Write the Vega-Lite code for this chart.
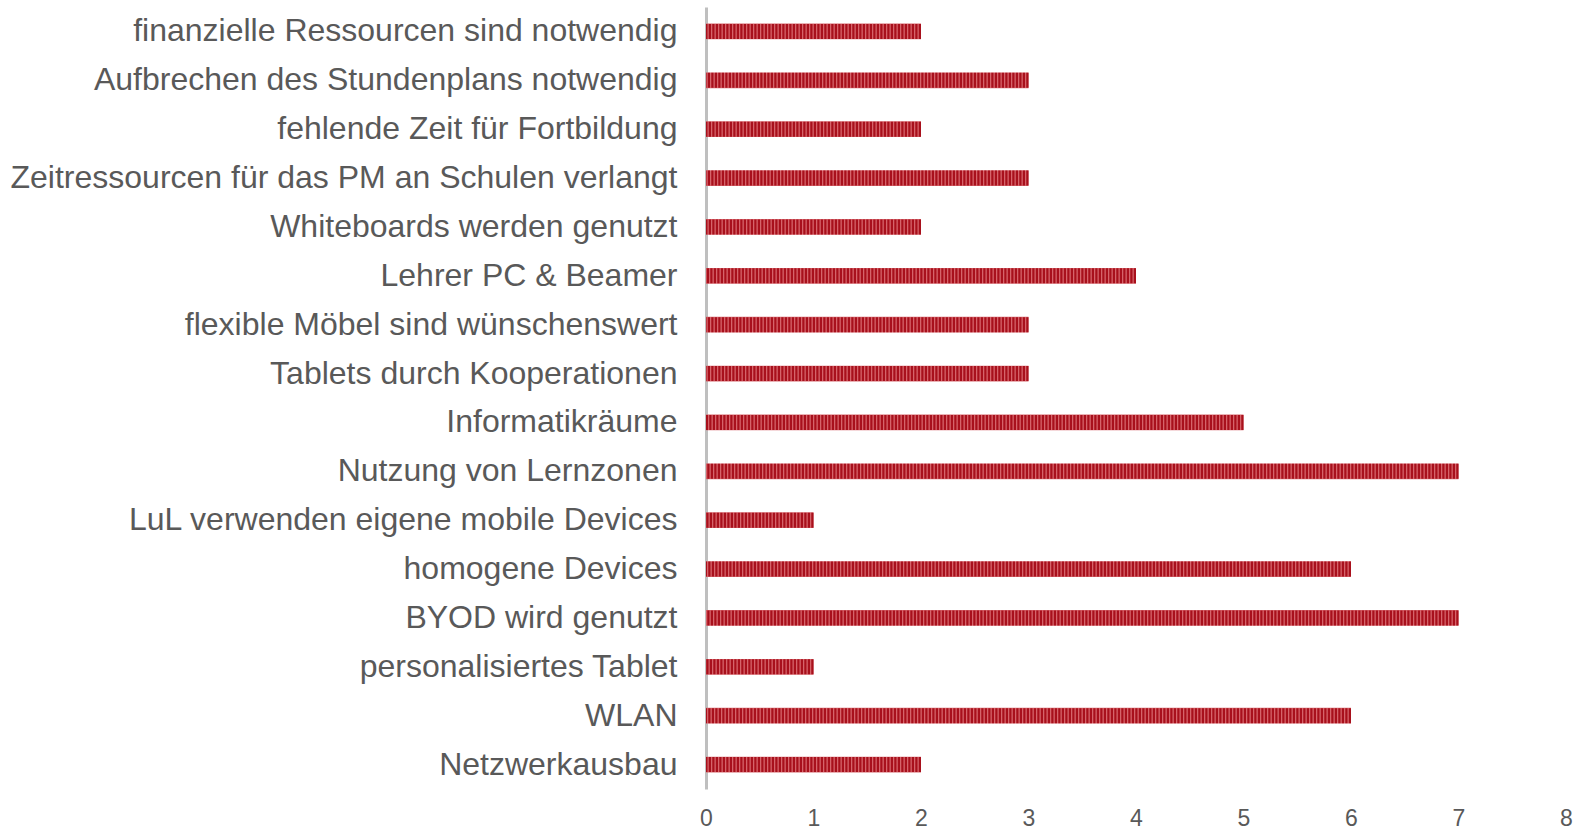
{
  "$schema": "https://vega.github.io/schema/vega-lite/v6.json",
  "autosize": "none",
  "width": 860,
  "height": 782,
  "padding": {"left": 706, "top": 7, "right": 11, "bottom": 40},
  "background": "white",
  "config": {"view": {"stroke": null}, "font": "Liberation Sans"},
  "data": {"values": [
    {"k": "finanzielle Ressourcen sind notwendig", "v": 2},
    {"k": "Aufbrechen des Stundenplans notwendig", "v": 3},
    {"k": "fehlende Zeit für Fortbildung", "v": 2},
    {"k": "Zeitressourcen für das PM an Schulen verlangt", "v": 3},
    {"k": "Whiteboards werden genutzt", "v": 2},
    {"k": "Lehrer PC & Beamer", "v": 4},
    {"k": "flexible Möbel sind wünschenswert", "v": 3},
    {"k": "Tablets durch Kooperationen", "v": 3},
    {"k": "Informatikräume", "v": 5},
    {"k": "Nutzung von Lernzonen", "v": 7},
    {"k": "LuL verwenden eigene mobile Devices", "v": 1},
    {"k": "homogene Devices", "v": 6},
    {"k": "BYOD wird genutzt", "v": 7},
    {"k": "personalisiertes Tablet", "v": 1},
    {"k": "WLAN", "v": 6},
    {"k": "Netzwerkausbau", "v": 2}
  ]},
  "encoding": {
    "y": {"field": "k", "type": "nominal", "sort": null,
      "scale": {"paddingInner": 0.68, "paddingOuter": 0.34},
      "axis": {"title": null, "ticks": false, "labelPadding": 29, "labelFontSize": 32, "labelColor": "#595959", "labelLimit": 900, "domainColor": "#bfbfbf", "domainWidth": 3}
    },
    "x": {"field": "v", "type": "quantitative",
      "scale": {"domain": [0, 8], "nice": false},
      "axis": {"title": null, "grid": false, "domain": false, "ticks": false, "tickCount": 8, "labelPadding": 18, "labelFontSize": 23, "labelColor": "#595959", "labelFlush": false}
    }
  },
  "layer": [
    {"mark": {"type": "bar", "color": "#d6646b"}},
    {"mark": {"type": "rule", "color": "#a8101c", "strokeWidth": 15, "strokeDash": [2.2, 1.3], "strokeCap": "butt"},
     "encoding": {"x2": {"datum": 0}}}
  ]
}
